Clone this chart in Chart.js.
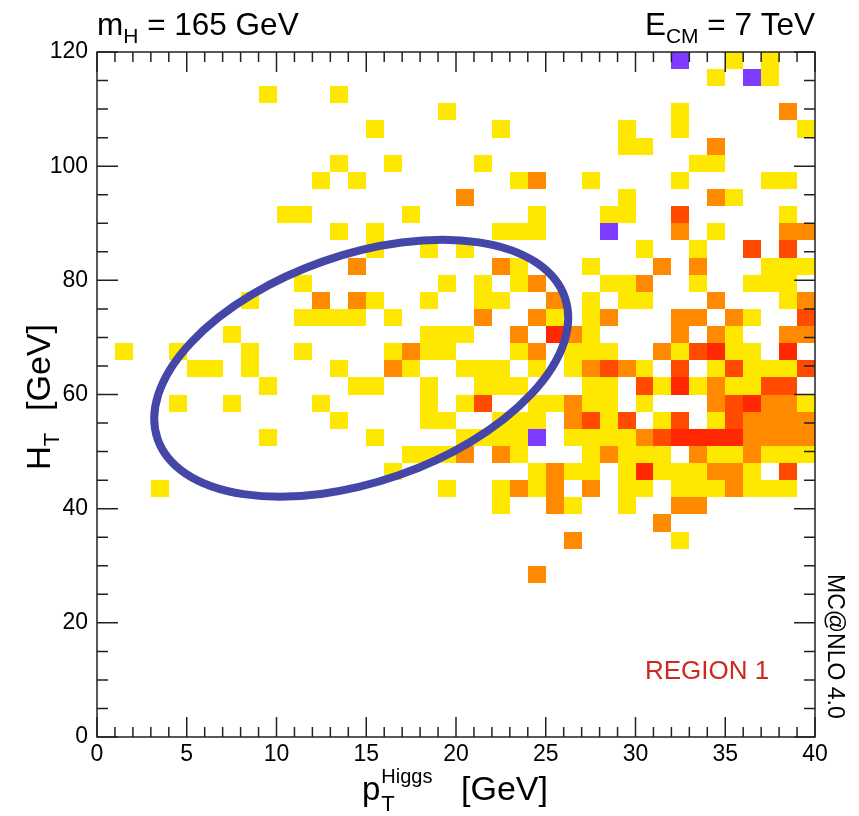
<!DOCTYPE html>
<html lang="en">
<head>
<meta charset="UTF-8">
<title>H_T vs pT(Higgs) - Region 1</title>
<script src="https://cdn.jsdelivr.net/npm/chart.js"></script>
<style>
  html, body { margin: 0; padding: 0; background: #fff; }
  #wrap { width: 859px; height: 816px; }
</style>
</head>
<body>
<div id="wrap"><canvas id="histo" width="859" height="816"></canvas></div>
<script>
// binning: pT in 1 GeV bins (0-40), H_T in 3 GeV bins (0-120)
var xBin = 1;
var yBin = 3;
var xTickLabels = [0, 5, 10, 15, 20, 25, 30, 35, 40];
var yTickLabels = [0, 20, 40, 60, 80, 100, 120];
var levelNames = ['1', '2', '3', '4', '5'];
var levelColors = ['#ffe800', '#ff8a00', '#ff4a00', '#ff2800', '#7d3cff'];

// occupancy map, top row first.
// each row = one H_T bin, 40 chars = pT bins 0..39 (spaces are just for reading)
// '.' empty, 1 yellow, 2 orange, 3 red-orange, 4 red, 5 violet
var topRowLow = 117;
var occupancy = [
  "..... ..... ..... ..... ..... ..... ..5.. 1.1..", // 117
  "..... ..... ..... ..... ..... ..... ....1 .51..", // 114
  "..... ....1 ...1. ..... ..... ..... ..... .....", // 111
  "..... ..... ..... ....1 ..... ..... ..1.. ...2.", // 108
  "..... ..... ..... 1.... ..1.. ....1 ..1.. ....1", // 105
  "..... ..... ..... ..... ..... ....1 1...2 .....", // 102
  "..... ..... ...1. .1... .1... ..... ...11 .....", // 99
  "..... ..... ..1.1 ..... ...12 ..1.. ..1.. ..11.", // 96
  "..... ..... ..... ..... 2.... ....1 ....2 1....", // 93
  "..... ..... 11... ..1.. ....1 ...11 ..3.. ...1.", // 90
  "..... ..... ...1. 1.... ..111 ...5. ..2.1 ...22", // 87
  "..... ..... ..... 1..1. 1.... ..... 1..1. .3.3.", // 84
  "..... ..... ....2 ..... ..21. ..1.. .2.2. ..111", // 81
  "..... ..... .1... ....1 .1.12 ...11 2..1. .111.", // 78
  "..... ...1. ..2.2 1..1. .11.. 2.1.1 1...2 ...12", // 75
  "..... ..... .1111 .1... .2..2 1.12. ..22. 21..3", // 72
  "..... ..1.. ..... ...11 1..2. 421.. ..2.2 1..22", // 69
  ".1..1 ...1. .1... .1211 ...12 .111. .2134 11.4.", // 66
  "..... 11.1. ...1. .21.. 111.1 .1232 1.3.1 31113", // 63
  "..... ....1 ....1 1..1. .111. ..11. 31412 1133.", // 60
  "....1 ..1.. ..1.. ...1. 13..1 1211. 1...2 34221", // 57
  "..... ..... ...1. ...11 ..111 .2313 .13.1 32222", // 54
  "..... ....1 ..... 1.... 11115 .1111 23444 42222", // 51
  "..... ..... ..... ..111 2.21. ..121 11.21 12111", // 48
  "..... ..... ..... .1... ....1 211.1 41112 21.3.", // 45
  "...1. ..... ..... ....1 ..121 2.2.1 1.111 2111.", // 42
  "..... ..... ..... ..... ..1.. 21..1 ..22. .....", // 39
  "..... ..... ..... ..... ..... ..... .2... .....", // 36
  "..... ..... ..... ..... ..... .2... ..1.. .....", // 33
  "..... ..... ..... ..... ..... ..... ..... .....", // 30
  "..... ..... ..... ..... ....2 ..... ..... ....."  // 27
];

// hand-drawn "region 1" ellipse: centre in data units, radii in px, tilt in degrees
var ellipse = { cx: 14.72, cy: 64.6, rx: 215.6, ry: 113.4, tilt: -19.2 };

var FONT = '"Liberation Sans", Arial, Helvetica, sans-serif';

// one scatter dataset per colour level, points sit on the lower-left bin corner
var datasets = levelNames.map(function(name, i) {
  return { label: name, data: [], backgroundColor: levelColors[i], pointRadius: 0, pointHoverRadius: 0 };
});
occupancy.forEach(function(row, r) {
  var cells = row.replace(/\s/g, '');
  var yLow = topRowLow - r * yBin;
  for (var k = 0; k < cells.length; k++) {
    var c = cells.charAt(k);
    if (c === '.') continue;
    datasets[parseInt(c, 10) - 1].data.push({ x: k * xBin, y: yLow });
  }
});

var binPainter = {
  id: 'binPainter',
  beforeDatasetsDraw: function(chart) {
    var ctx = chart.ctx, xs = chart.scales.x, ys = chart.scales.y;
    ctx.save();
    chart.data.datasets.forEach(function(ds) {
      ctx.fillStyle = ds.backgroundColor;
      ds.data.forEach(function(p) {
        var x0 = Math.round(xs.getPixelForValue(p.x));
        var x1 = Math.round(xs.getPixelForValue(p.x + xBin));
        var y0 = Math.round(ys.getPixelForValue(p.y + yBin));
        var y1 = Math.round(ys.getPixelForValue(p.y));
        ctx.fillRect(x0, y0, x1 - x0, y1 - y0);
      });
    });
    ctx.restore();
  }
};

function txt(ctx, s, size, x, y, color) {
  ctx.font = size + 'px ' + FONT;
  ctx.fillStyle = color || '#000';
  ctx.fillText(s, x, y);
  return ctx.measureText(s).width;
}

var decorations = {
  id: 'decorations',
  afterDatasetsDraw: function(chart) {
    var ctx = chart.ctx, xs = chart.scales.x, ys = chart.scales.y, a = chart.chartArea;
    ctx.save();

    // ellipse
    ctx.beginPath();
    ctx.ellipse(xs.getPixelForValue(ellipse.cx), ys.getPixelForValue(ellipse.cy),
      ellipse.rx, ellipse.ry, ellipse.tilt * Math.PI / 180, 0, 2 * Math.PI);
    ctx.lineWidth = 8;
    ctx.strokeStyle = '#4447a7';
    ctx.stroke();

    // frame + ROOT style ticks on all four sides
    ctx.strokeStyle = '#222';
    ctx.lineWidth = 1.5;
    ctx.strokeRect(a.left, a.top, a.right - a.left, a.bottom - a.top);
    ctx.beginPath();
    for (var v = 0; v <= 40; v += 1) {
      var px = xs.getPixelForValue(v);
      var len = (v % 5 === 0) ? 20 : 10;
      ctx.moveTo(px, a.bottom); ctx.lineTo(px, a.bottom - len);
      ctx.moveTo(px, a.top); ctx.lineTo(px, a.top + len);
    }
    for (var w = 0; w <= 120; w += 5) {
      var py = ys.getPixelForValue(w);
      var l2 = (w % 20 === 0) ? 21 : 11;
      ctx.moveTo(a.left, py); ctx.lineTo(a.left + l2, py);
      ctx.moveTo(a.right, py); ctx.lineTo(a.right - l2, py);
    }
    ctx.stroke();

    ctx.textBaseline = 'alphabetic';
    ctx.textAlign = 'left';

    // m_H = 165 GeV
    var x = 97;
    x += txt(ctx, 'm', 31.5, x, 35);
    x += txt(ctx, 'H', 21, x, 43);
    txt(ctx, ' = 165 GeV', 31.5, x, 35);

    // E_CM = 7 TeV, right aligned
    ctx.font = '31.5px ' + FONT;
    var w1 = ctx.measureText('E').width, w3 = ctx.measureText(' = 7 TeV').width;
    ctx.font = '21px ' + FONT;
    var w2 = ctx.measureText('CM').width;
    x = a.right - (w1 + w2 + w3);
    x += txt(ctx, 'E', 31.5, x, 35);
    x += txt(ctx, 'CM', 21, x, 43);
    txt(ctx, ' = 7 TeV', 31.5, x, 35);

    // x title: p_T^Higgs [GeV]
    x = 362;
    x += txt(ctx, 'p', 33, x, 800);
    txt(ctx, 'T', 22, x + 1, 811);
    txt(ctx, 'Higgs', 20, x + 1, 783);
    txt(ctx, '[GeV]', 34, 461, 800);

    // y title: H_T [GeV]
    ctx.save();
    ctx.translate(50, 470);
    ctx.rotate(-Math.PI / 2);
    var hx = txt(ctx, 'H', 33, 0, 0);
    txt(ctx, 'T', 22, hx, 9);
    txt(ctx, '[GeV]', 34, 59, 0);
    ctx.restore();

    // region label
    txt(ctx, 'REGION 1', 26, 645, 679, '#cc2a1e');

    // generator tag, rotated down the right margin
    ctx.save();
    ctx.translate(828, 574);
    ctx.rotate(Math.PI / 2);
    txt(ctx, 'MC@NLO 4.0', 23, 0, 0);
    ctx.restore();

    ctx.restore();
  }
};

new Chart(document.getElementById('histo'), {
  type: 'scatter',
  data: { datasets: datasets },
  options: {
    responsive: false,
    animation: false,
    events: [],
    layout: { padding: { top: 52, right: 44, left: 0, bottom: 0 } },
    plugins: {
      legend: { display: false },
      tooltip: { enabled: false }
    },
    scales: {
      x: {
        type: 'linear',
        min: 0,
        max: 40,
        grid: { display: false, drawTicks: false, tickLength: 0 },
        border: { display: false },
        afterBuildTicks: function(s) { s.ticks = xTickLabels.map(function(v) { return { value: v }; }); },
        afterFit: function(s) { s.height = 79; },
        ticks: {
          autoSkip: false,
          maxRotation: 0,
          padding: 4,
          color: '#000',
          font: { family: FONT, size: 23 }
        }
      },
      y: {
        type: 'linear',
        min: 0,
        max: 120,
        grid: { display: false, drawTicks: false, tickLength: 0 },
        border: { display: false },
        afterBuildTicks: function(s) { s.ticks = yTickLabels.map(function(v) { return { value: v }; }); },
        afterFit: function(s) { s.width = 97; },
        ticks: {
          autoSkip: false,
          padding: 9,
          color: '#000',
          font: { family: FONT, size: 23 }
        }
      }
    }
  },
  plugins: [binPainter, decorations]
});
</script>
</body>
</html>
